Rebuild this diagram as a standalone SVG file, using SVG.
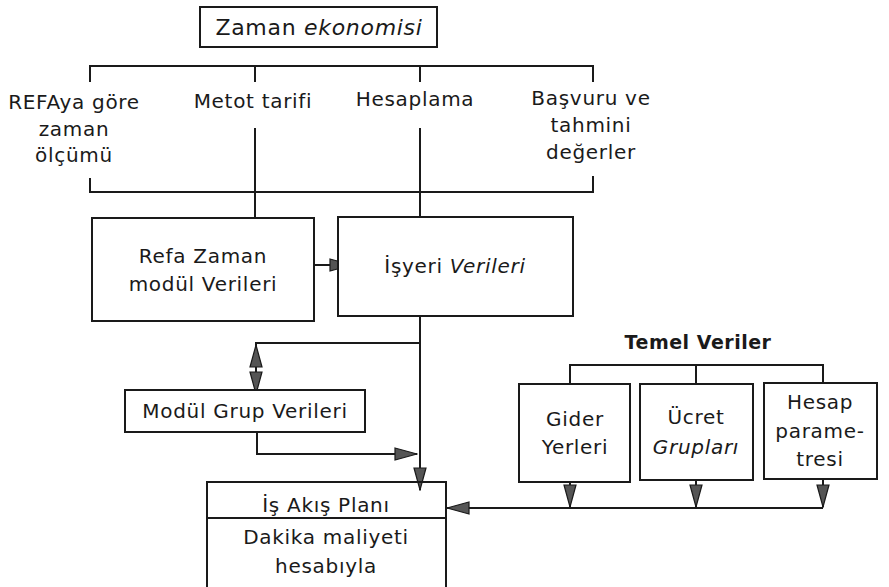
<svg xmlns="http://www.w3.org/2000/svg" width="889" height="587" viewBox="0 0 889 587">
<style>
.box{fill:#fff;stroke:#1a1a1a;stroke-width:2}
.ln{fill:none;stroke:#1a1a1a;stroke-width:2}
.ar{fill:none;stroke:#1a1a1a;stroke-width:2;marker-end:url(#ah)}
text{font-family:"DejaVu Sans","Liberation Sans",sans-serif;font-size:20px;letter-spacing:0.7px;fill:#1a1a1a;text-anchor:middle}
.it{font-style:italic}
.b{font-weight:bold;font-size:19px;letter-spacing:0.5px}
</style>
<defs>
<marker id="ah" viewBox="0 0 24 14" refX="23" refY="7" markerWidth="24" markerHeight="14" orient="auto" markerUnits="userSpaceOnUse">
<path d="M1,1 L23,7 L1,13 z" fill="#555" stroke="#1a1a1a" stroke-width="1.2"/>
</marker>
</defs>
<rect width="889" height="587" fill="#fff"/>
<g id="connectors">
<path class="ln" d="M90,82 V66 H593 V82 M255,66 V82 M420,66 V82"/>
<path class="ln" d="M90,178 V192 H593 V176"/>
<path class="ln" d="M255,128 V218 M420,128 V217"/>
<path class="ar" d="M314,265 H352"/>
<path class="ar" d="M420,316 V490"/>
<path class="ln" d="M420,343 H256 V370"/>
<path class="ar" d="M256,372 V345"/>
<path class="ar" d="M256,368 V394"/>
<path class="ar" d="M257,432 V454 H417"/>
<path class="ln" d="M570,384 V365 H823 V384 M696,365 V384"/>
<path class="ar" d="M570,482 V507"/>
<path class="ar" d="M696,480 V507"/>
<path class="ar" d="M823,479 V507"/>
<path class="ar" d="M823,508 H447"/>
</g>
<g id="zaman-ekonomisi">
<rect class="box" x="200" y="7" width="237" height="40"/>
<text x="319" y="35" style="font-size:22px">Zaman <tspan class="it">ekonomisi</tspan></text>
</g>
<g id="refa-olcum">
<text x="74" y="109">REFAya göre</text>
<text x="74" y="136">zaman</text>
<text x="74" y="162">ölçümü</text>
</g>
<g id="metot-tarifi"><text x="253" y="108">Metot tarifi</text></g>
<g id="hesaplama"><text x="415" y="106">Hesaplama</text></g>
<g id="basvuru">
<text x="591" y="105">Başvuru ve</text>
<text x="591" y="132">tahmini</text>
<text x="591" y="159">değerler</text>
</g>
<g id="refa-zaman">
<rect class="box" x="92" y="218" width="222" height="103"/>
<text x="203" y="263">Refa Zaman</text>
<text x="203" y="291">modül Verileri</text>
</g>
<g id="isyeri">
<rect class="box" x="338" y="217" width="235" height="99"/>
<text x="455" y="273">İşyeri <tspan class="it">Verileri</tspan></text>
</g>
<g id="modul-grup">
<rect class="box" x="125" y="390" width="240" height="42"/>
<text x="245" y="418">Modül Grup Verileri</text>
</g>
<g id="temel-veriler"><text class="b" x="698" y="349">Temel Veriler</text></g>
<g id="gider">
<rect class="box" x="519" y="384" width="111" height="98"/>
<text x="575" y="426">Gider</text>
<text x="575" y="454">Yerleri</text>
</g>
<g id="ucret">
<rect class="box" x="640" y="384" width="113" height="96"/>
<text x="696" y="424">Ücret</text>
<text class="it" x="696" y="454">Grupları</text>
</g>
<g id="hesap-param">
<rect class="box" x="764" y="383" width="113" height="96"/>
<text x="820" y="409">Hesap</text>
<text x="820" y="438">parame-</text>
<text x="820" y="466">tresi</text>
</g>
<g id="is-akis">
<path class="ln" d="M207,590 V482 H446 V590 M207,518 H446"/>
<text x="326" y="512">İş Akış Planı</text>
<text x="326" y="544">Dakika maliyeti</text>
<text x="326" y="573">hesabıyla</text>
</g>
</svg>
